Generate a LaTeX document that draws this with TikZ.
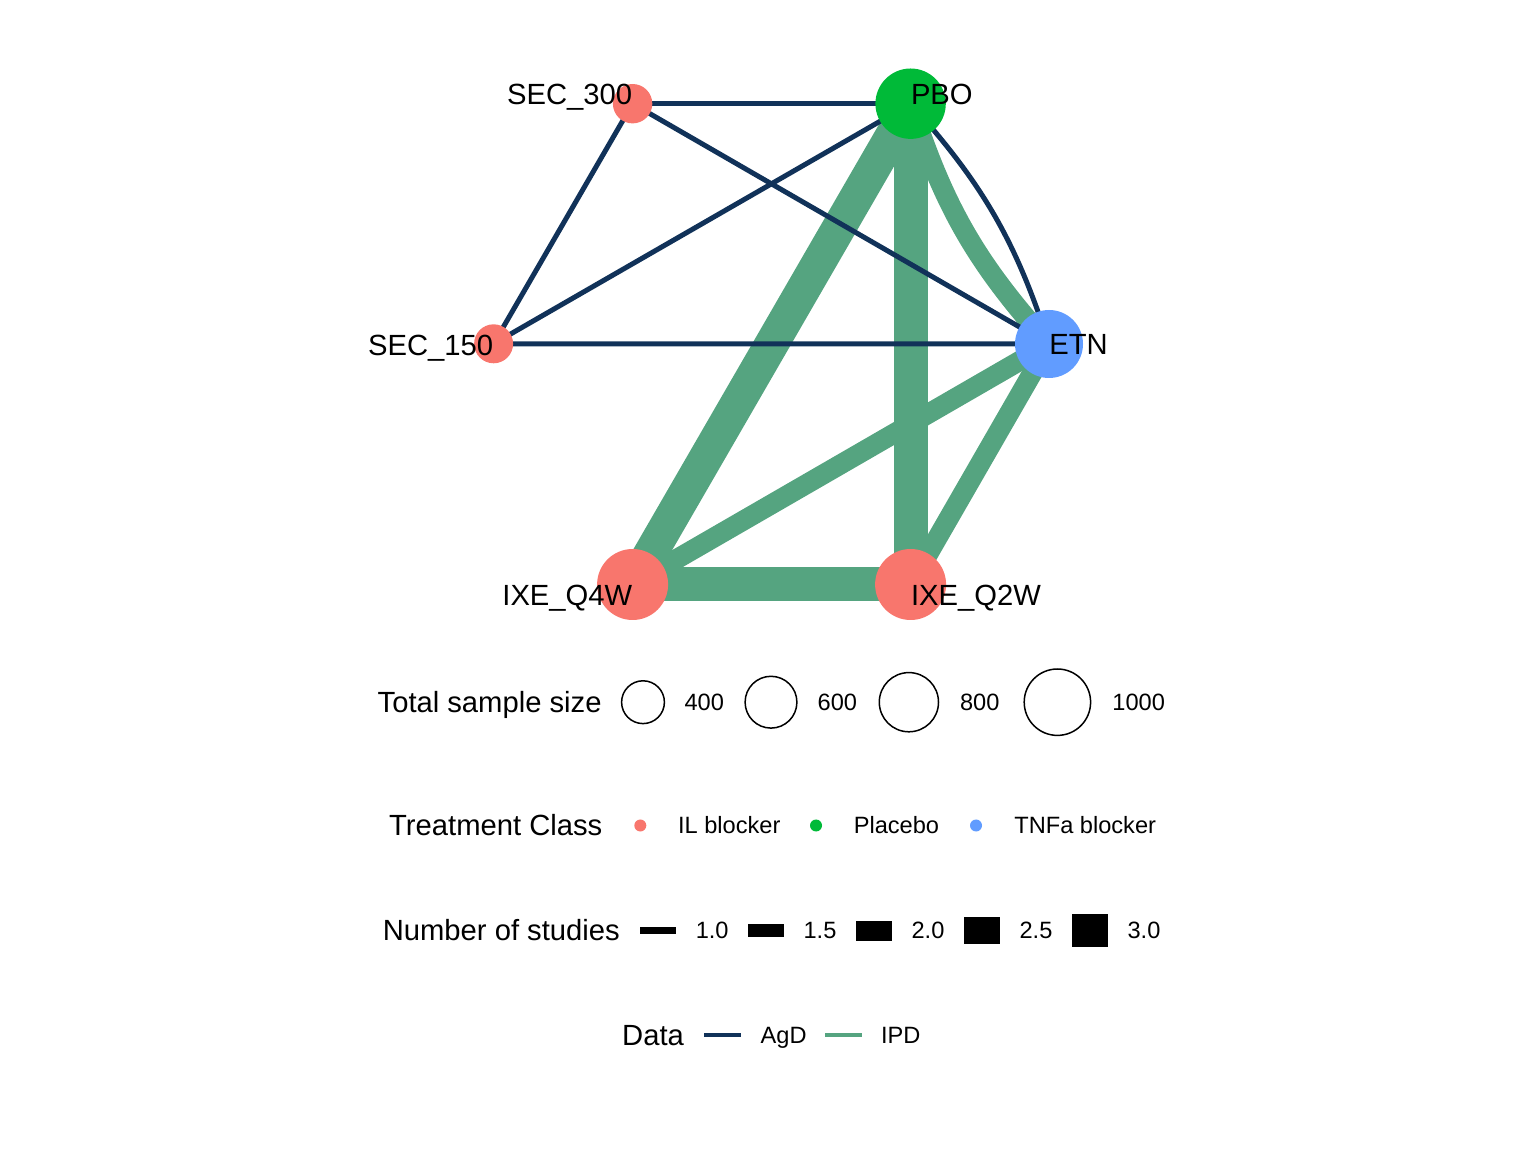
\documentclass[tikz,border=0pt]{standalone}
\usepackage{fontspec}
\setmainfont{Liberation Sans}
\usepackage{tikz}
\usetikzlibrary{positioning,backgrounds}

\definecolor{ilcol}{HTML}{F8766D}
\definecolor{pbocol}{HTML}{00BA38}
\definecolor{tnfcol}{HTML}{619CFF}
\definecolor{agdcol}{HTML}{113259}
\definecolor{ipdcol}{HTML}{55A480}

\begin{document}
\begin{tikzpicture}[
		x=0.5bp, y=-0.5bp,
		trt/.style = {circle, inner sep=0pt, outer sep=0pt},
		lbl/.style = {inner sep=0pt, font=\fontsize{14.6bp}{17bp}\selectfont},
		ttl/.style = {inner sep=0pt, text height=10.45bp, text depth=0pt, font=\fontsize{14.6bp}{17bp}\selectfont},
		keytxt/.style = {inner sep=0pt, text height=8.45bp, text depth=0pt, font=\fontsize{11.8bp}{14bp}\selectfont},
		sizekey/.style = {circle, draw=black, line width=0.75bp, inner sep=0pt, outer sep=0pt},
		classkey/.style = {circle, minimum size=6bp, inner sep=0pt, outer sep=0pt},
		studykey/.style = {rectangle, fill=black, minimum width=18bp, inner sep=0pt, outer sep=0pt},
		datakey/.style = {rectangle, minimum width=18.2bp, minimum height=2bp, inner sep=0pt, outer sep=0pt},
		agd/.style = {draw=agdcol, line width=2.5bp},
		ipd/.style = {draw=ipdcol, line width=#1}
	]
	\useasboundingbox (0,0) rectangle (1536,1152);

	% Nodos
	\node [trt, fill=ilcol, minimum size=19.7bp] (sec300) at (632.6,103.7) {};
	\node [trt, fill=pbocol, minimum size=35.2bp] (pbo) at (910.6,103.7) {};
	\node [trt, fill=ilcol, minimum size=19.5bp] (sec150) at (493.6,343.8) {};
	\node [trt, fill=tnfcol, minimum size=34bp] (etn) at (1049,344) {};
	\node [trt, fill=ilcol, minimum size=35.5bp] (q4w) at (632.6,584.5) {};
	\node [trt, fill=ilcol, minimum size=35.5bp] (q2w) at (910.6,584.5) {};
	% Etiquetas
	\node [lbl, anchor=base east] (sec300-lbl) at (632.6,105) {SEC\_300};
	\node [lbl, anchor=base west] (pbo-lbl) at (910.6,105) {PBO};
	\node [lbl, anchor=base east] (sec150-lbl) at (493.6,355.5) {SEC\_150};
	\node [lbl, anchor=base west] (etn-lbl) at (1049,355) {ETN};
	\node [lbl, anchor=base east] (q4w-lbl) at (632.6,605.5) {IXE\_Q4W};
	\node [lbl, anchor=base west] (q2w-lbl) at (910.6,605.5) {IXE\_Q2W};

	\begin{scope}[on background layer]
		% Aristas IPD
		\draw [ipd=17bp] (pbo.center) -- (q4w.center);
		\draw [ipd=17bp] (pbo.center) -- (q2w.center);
		\draw [ipd=17bp] (q4w.center) -- (q2w.center);
		\draw [ipd=10bp] (pbo.center) to[bend right=12] (etn.center);
		\draw [ipd=10bp] (etn.center) -- (q4w.center);
		\draw [ipd=10bp] (etn.center) -- (q2w.center);
		% Aristas AgD
		\draw [agd] (sec300.center) -- (pbo.center);
		\draw [agd] (sec300.center) -- (sec150.center);
		\draw [agd] (sec300.center) -- (etn.center);
		\draw [agd] (sec150.center) -- (pbo.center);
		\draw [agd] (sec150.center) -- (etn.center);
		\draw [agd] (pbo.center) to[bend left=12] (etn.center);
	\end{scope}

	% Leyenda: tamaño
	\node [sizekey, minimum size=21.4bp] (s400) at (643,702.2) {};
	\node [sizekey, minimum size=25.9bp] (s600) at (771,702.2) {};
	\node [sizekey, minimum size=29.6bp] (s800) at (908.9,702.2) {};
	\node [sizekey, minimum size=33.2bp] (s1000) at (1057.4,702.2) {};
	\node [ttl, left=9.8bp of s400] (size-ttl) {Total sample size};
	\node [keytxt, right=9.9bp of s400] (s400-txt) {400};
	\node [keytxt, right=10.2bp of s600] (s600-txt) {600};
	\node [keytxt, right=10.6bp of s800] (s800-txt) {800};
	\node [keytxt, right=10.7bp of s1000] (s1000-txt) {1000};

	% Leyenda: clase
	\node [classkey, fill=ilcol] (c-il) at (640.3,825.5) {};
	\node [classkey, fill=pbocol] (c-pbo) at (816,825.5) {};
	\node [classkey, fill=tnfcol] (c-tnf) at (976,825.5) {};
	\node [ttl, left=15.8bp of c-il] (class-ttl) {Treatment Class};
	\node [keytxt, right=15.7bp of c-il] (c-il-txt) {IL blocker};
	\node [keytxt, right=15.7bp of c-pbo] (c-pbo-txt) {Placebo};
	\node [keytxt, right=16bp of c-tnf] (c-tnf-txt) {TNFa blocker};

	% Leyenda: estudios
	\node [studykey, minimum height=3.35bp] (n10) at (658.2,930.5) {};
	\node [studykey, minimum height=6.65bp] (n15) at (766,930.5) {};
	\node [studykey, minimum height=10bp] (n20) at (874,930.5) {};
	\node [studykey, minimum height=13.65bp] (n25) at (982,930.5) {};
	\node [studykey, minimum height=16.65bp] (n30) at (1090,930.5) {};
	\node [ttl, left=10bp of n10] (studies-ttl) {Number of studies};
	\node [keytxt, right=9.6bp of n10] (n10-txt) {1.0};
	\node [keytxt, right=9.6bp of n15] (n15-txt) {1.5};
	\node [keytxt, right=9.6bp of n20] (n20-txt) {2.0};
	\node [keytxt, right=9.6bp of n25] (n25-txt) {2.5};
	\node [keytxt, right=9.6bp of n30] (n30-txt) {3.0};

	% Leyenda: datos
	\node [datakey, fill=agdcol] (d-agd) at (722.5,1034.8) {};
	\node [datakey, fill=ipdcol] (d-ipd) at (843.5,1034.8) {};
	\node [ttl, left=10bp of d-agd] (data-ttl) {Data};
	\node [keytxt, right=9.8bp of d-agd] (d-agd-txt) {AgD};
	\node [keytxt, right=9.5bp of d-ipd] (d-ipd-txt) {IPD};
\end{tikzpicture}
\end{document}
